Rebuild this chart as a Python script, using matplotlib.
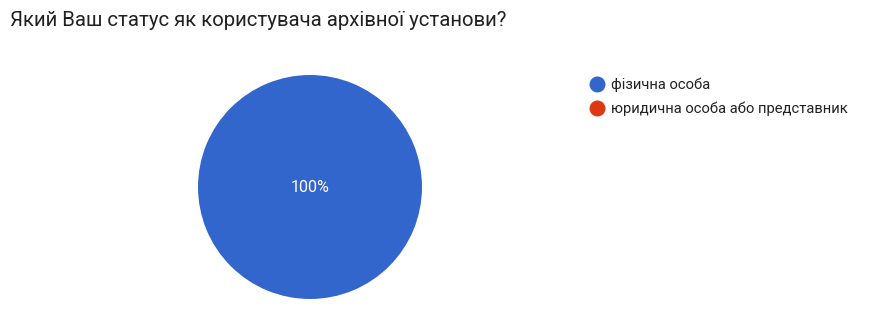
import matplotlib.pyplot as plt
from matplotlib.lines import Line2D

plt.rcParams['font.family'] = ['Roboto', 'DejaVu Sans']

title = "Який Ваш статус як користувача архівної установи?"
categories = ["фізична особа", "юридична особа або представник"]
values = [100, 0]
colors = ['#3366cc', '#dc3912']

W, H = 875, 319
fig = plt.figure(figsize=(W / 100, H / 100), dpi=100)

# pie area in pixels: centre (310, 187), radius 112
cx, cy, r = 310, 187, 112
ax = fig.add_axes([(cx - r) / W, (H - cy - r) / H, 2 * r / W, 2 * r / H])
ax.pie(values, colors=colors, startangle=90, counterclock=False,
       radius=1, autopct=lambda p: '%d%%' % round(p) if p > 0 else '',
       pctdistance=0.0, textprops={'color': 'white', 'fontsize': 11.5})
ax.set_xlim(-1, 1)
ax.set_ylim(-1, 1)
ax.set_aspect('equal')
ax.axis('off')

fig.text(10 / W, 1 - 21 / H, title, fontsize=14.7, color='#212121', va='center', ha='left')

handles = [Line2D([], [], marker='o', linestyle='none', markersize=10.5,
                  markerfacecolor=c, markeredgecolor=c) for c in colors]
fig.legend(handles, categories, loc='upper left', bbox_to_anchor=(582 / W, 1 - 72 / H),
           frameon=False, fontsize=10.6, handletextpad=0.4, labelspacing=0.62,
           handlelength=1.2, borderaxespad=0, labelcolor='#222222')

fig.savefig('out.png', dpi=100, facecolor='white')
